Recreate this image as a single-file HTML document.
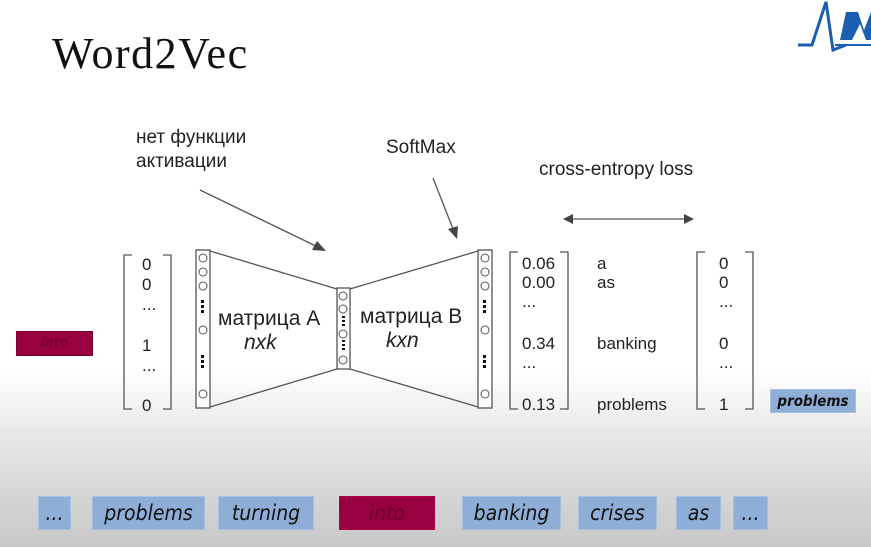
<!DOCTYPE html>
<html><head><meta charset="utf-8"><style>
body{margin:0;width:871px;height:547px;overflow:hidden;font-family:"Liberation Sans","DejaVu Sans",sans-serif;background:linear-gradient(to bottom,#fff 0,#fff 370px,#e6e6e6 440px,#d4d4d4 500px,#c8c8c8 547px);position:relative}
.t{position:absolute;color:#222;white-space:nowrap}
.b{position:absolute;background:#8eaed8;border:1px solid #a8c0e0;font-style:italic;font-size:21px;color:#111;text-align:center;line-height:32px;height:32px;font-family:"DejaVu Sans Condensed","Liberation Sans Narrow","Liberation Sans",sans-serif}
</style></head><body>
<div class="t" style="left:52px;top:28px;font-family:'Liberation Serif',serif;font-size:44px;letter-spacing:1.5px;color:#111">Word2Vec</div>
<svg style="position:absolute;left:0;top:0" width="871" height="547">
<path d="M798 45 L812 45 L826 2 L833 50 L846 45" fill="none" stroke="#1c5fb0" stroke-width="3"/>
<polygon points="846,12 858,12 864,30 871,12 871,40 866,40 860,24 852,40 840,40" fill="#1c5fb0"/>
<line x1="835" y1="45" x2="871" y2="45" stroke="#1c5fb0" stroke-width="2"/>
<g stroke="#555" stroke-width="1.3" fill="none">
<path d="M132 255 H124 V409 H132 M163 255 H171 V409 H163"/>
<path d="M518 252 H510 V409 H518 M560 252 H568 V409 H560"/>
<path d="M705 252 H697 V409 H705 M745 252 H753 V409 H745"/>
<line x1="210" y1="251" x2="337" y2="289"/><line x1="210" y1="407" x2="337" y2="369"/>
<line x1="350" y1="289" x2="478" y2="251"/><line x1="350" y1="369" x2="478" y2="407"/>
<rect x="196" y="250" width="14" height="158" fill="#fff"/>
<rect x="337" y="288" width="13" height="81" fill="#fff"/>
<rect x="478" y="250" width="14" height="158" fill="#fff"/>
<g stroke-width="1"><circle cx="203" cy="258" r="4"/><circle cx="203" cy="272" r="4"/><circle cx="203" cy="286" r="4"/><circle cx="203" cy="330" r="4"/><circle cx="203" cy="394" r="4"/>
<circle cx="485" cy="258" r="4"/><circle cx="485" cy="272" r="4"/><circle cx="485" cy="286" r="4"/><circle cx="485" cy="330" r="4"/><circle cx="485" cy="394" r="4"/>
<circle cx="343" cy="296" r="4"/><circle cx="343" cy="309" r="4"/><circle cx="343" cy="334" r="4"/><circle cx="343" cy="360" r="4"/></g>
<line x1="565" y1="219" x2="692" y2="219"/>
<line x1="200" y1="190" x2="322" y2="249"/><line x1="433" y1="178" x2="455" y2="234"/>
</g>
<g fill="#111"><rect x="201" y="300" width="3" height="3"/><rect x="201" y="305" width="3" height="3"/><rect x="201" y="310" width="3" height="3"/>
<rect x="201" y="355" width="3" height="3"/><rect x="201" y="360" width="3" height="3"/><rect x="201" y="365" width="3" height="3"/>
<rect x="483" y="300" width="3" height="3"/><rect x="483" y="305" width="3" height="3"/><rect x="483" y="310" width="3" height="3"/>
<rect x="483" y="355" width="3" height="3"/><rect x="483" y="360" width="3" height="3"/><rect x="483" y="365" width="3" height="3"/>
<rect x="342" y="316" width="3" height="2"/><rect x="342" y="320" width="3" height="2"/><rect x="342" y="324" width="3" height="2"/>
<rect x="342" y="340" width="3" height="2"/><rect x="342" y="344" width="3" height="2"/><rect x="342" y="348" width="3" height="2"/></g>
<g fill="#444"><polygon points="326,251 312,250 317,241"/><polygon points="457,239 448,229 458,226"/>
<polygon points="563,219 573,214 573,224"/><polygon points="694,219 684,214 684,224"/></g>
</svg>
<div class="t" style="left:136px;top:126px;font-size:19px;line-height:24px">нет функции<br>активации</div>
<div class="t" style="left:386px;top:137px;font-size:19px">SoftMax</div>
<div class="t" style="left:539px;top:159px;font-size:19px">cross-entropy loss</div>
<div class="t" style="left:218px;top:307px;font-size:21px">матрица A</div>
<div class="t" style="left:244px;top:331px;font-size:21px;font-style:italic">nxk</div>
<div class="t" style="left:360px;top:305px;font-size:21px">матрица B</div>
<div class="t" style="left:386px;top:329px;font-size:21px;font-style:italic">kxn</div>
<div class="t" style="left:142px;top:255px;font-size:17px;line-height:20px">0<br>0<br>...</div>
<div class="t" style="left:142px;top:336px;font-size:17px;line-height:20px">1<br>...</div>
<div class="t" style="left:142px;top:396px;font-size:17px">0</div>
<div class="t" style="left:522px;top:254px;font-size:17px;line-height:19px">0.06<br>0.00<br>...</div>
<div class="t" style="left:522px;top:334px;font-size:17px;line-height:19px">0.34<br>...</div>
<div class="t" style="left:522px;top:395px;font-size:17px">0.13</div>
<div class="t" style="left:597px;top:254px;font-size:17px;line-height:19px">a<br>as</div>
<div class="t" style="left:597px;top:334px;font-size:17px">banking</div>
<div class="t" style="left:597px;top:395px;font-size:17px">problems</div>
<div class="t" style="left:719px;top:254px;font-size:17px;line-height:19px">0<br>0<br>...</div>
<div class="t" style="left:719px;top:334px;font-size:17px;line-height:19px">0<br>...</div>
<div class="t" style="left:719px;top:395px;font-size:17px">1</div>
<div class="b" style="left:16px;top:331px;width:75px;height:23px;line-height:23px;font-size:14px;background:#990040;border-color:#7a0030;color:#7a0030;font-weight:bold">into</div>
<div class="b" style="left:770px;top:389px;width:84px;height:22px;line-height:22px;font-size:15px;font-weight:bold">problems</div>
<div class="b" style="left:38px;top:496px;width:31px">...</div>
<div class="b" style="left:92px;top:496px;width:111px">problems</div>
<div class="b" style="left:218px;top:496px;width:94px">turning</div>
<div class="b" style="left:339px;top:496px;width:94px;background:#990040;border-color:#b00048;color:#6a0028">into</div>
<div class="b" style="left:462px;top:496px;width:97px">banking</div>
<div class="b" style="left:578px;top:496px;width:77px">crises</div>
<div class="b" style="left:676px;top:496px;width:43px">as</div>
<div class="b" style="left:733px;top:496px;width:33px">...</div>
</body></html>
